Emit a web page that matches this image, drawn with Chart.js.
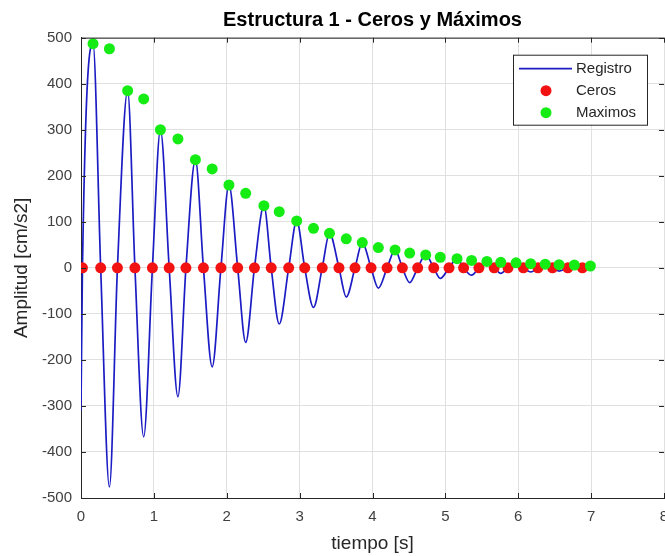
<!DOCTYPE html>
<html lang="es">
<head>
<meta charset="utf-8">
<title>Estructura 1 - Ceros y Máximos</title>
<script src="https://cdn.jsdelivr.net/npm/chart.js@4.4.1/dist/chart.umd.min.js"></script>
<style>
  html, body { margin: 0; padding: 0; background: #fff; overflow: hidden; }
  #grafico { display: block; }
</style>
</head>
<body>
<canvas id="grafico" width="665" height="556"></canvas>
<script>
// Registro de aceleración - estructura 1
const inicioT = 0;      // [s]
const inicioA = -310;   // [cm/s2]

// Instantes de cruce por cero [s]
const cerosT = [0.02, 0.27, 0.50, 0.74, 0.98, 1.21, 1.44, 1.68, 1.92, 2.15, 2.38,
  2.61, 2.85, 3.07, 3.31, 3.54, 3.76, 3.98, 4.20, 4.41, 4.62, 4.84, 5.05, 5.25,
  5.46, 5.67, 5.86, 6.07, 6.27, 6.47, 6.68, 6.88];

// Máximos en valor absoluto entre ceros consecutivos
const maximosT = [0.165, 0.39, 0.64, 0.86, 1.09, 1.33, 1.57, 1.80, 2.03, 2.26, 2.51,
  2.72, 2.96, 3.19, 3.41, 3.64, 3.86, 4.08, 4.31, 4.51, 4.73, 4.93, 5.16, 5.36,
  5.57, 5.76, 5.97, 6.17, 6.37, 6.56, 6.77, 6.99];
const maximosA = [487, 476, 385, 367, 300, 280, 235, 215, 180, 162, 135, 122, 102,
  86, 75, 63, 55, 44, 39, 32, 28, 23, 20, 16, 14, 12, 11, 9, 8, 7, 6, 4];

const ticksX = [0, 1, 2, 3, 4, 5, 6, 7, 8];
const ticksY = [-500, -400, -300, -200, -100, 0, 100, 200, 300, 400, 500];

const fuente = '"Liberation Sans", Arial, Helvetica, sans-serif';
const colorEjes = '#262626';
const bordeDerecho = 664; // el eje llega casi al borde y el "8" queda cortado

// El registro alterna cero -> pico (+) -> cero -> valle (-) ...
const registro = [{ x: inicioT, y: inicioA }];
cerosT.forEach((t, i) => {
  registro.push({ x: t, y: 0 });
  const signo = i % 2 === 0 ? 1 : -1;
  registro.push({ x: maximosT[i], y: signo * maximosA[i] });
});

const ceros = cerosT.map(t => ({ x: t, y: 0 }));
const maximos = maximosT.map((t, i) => ({ x: t, y: maximosA[i] }));

// Chart.js reserva medio rótulo a la derecha; se estira el área hasta el borde
const estirarDerecha = {
  id: 'estirarDerecha',
  afterLayout(chart) {
    const a = chart.chartArea;
    a.right = bordeDerecho;
    a.width = a.right - a.left;
    const x = chart.scales.x;
    x.right = bordeDerecho;
    x.width = x.right - x.left;
    x.configure();
    if (chart.titleBlock) {
      chart.titleBlock.right = bordeDerecho;
      chart.titleBlock.width = chart.titleBlock.right - chart.titleBlock.left;
    }
  }
};

// Borde superior y marcas hacia dentro en los cuatro lados (estilo MATLAB)
const cajaEjes = {
  id: 'cajaEjes',
  afterDraw(chart) {
    const { ctx, chartArea: a, scales: { x, y } } = chart;
    const largo = 5;
    ctx.save();
    ctx.strokeStyle = colorEjes;
    ctx.lineWidth = 1;
    ctx.beginPath();
    ctx.moveTo(a.left, a.top + 0.5);
    ctx.lineTo(a.right, a.top + 0.5);
    ticksX.forEach(v => {
      const px = Math.round(x.getPixelForValue(v)) + 0.5;
      ctx.moveTo(px, a.bottom); ctx.lineTo(px, a.bottom - largo);
      ctx.moveTo(px, a.top); ctx.lineTo(px, a.top + largo);
    });
    ticksY.forEach(v => {
      const py = Math.round(y.getPixelForValue(v)) + 0.5;
      ctx.moveTo(a.left, py); ctx.lineTo(a.left + largo, py);
      ctx.moveTo(a.right, py); ctx.lineTo(a.right - largo, py);
    });
    ctx.stroke();
    ctx.restore();
  }
};

// Leyenda recuadrada en la esquina superior derecha
const leyenda = {
  id: 'leyenda',
  afterDraw(chart) {
    const { ctx, chartArea: a } = chart;
    const ds = chart.data.datasets;
    const ancho = 134, alto = 70;
    const x0 = a.right - 17 - ancho, y0 = a.top + 17;
    ctx.save();
    ctx.fillStyle = '#fff';
    ctx.fillRect(x0, y0, ancho, alto);
    ctx.strokeStyle = colorEjes;
    ctx.lineWidth = 1;
    ctx.strokeRect(x0 + 0.5, y0 + 0.5, ancho, alto);

    const filas = [y0 + 14, y0 + 36, y0 + 58];
    const xMarca = x0 + 33, xTexto = x0 + 63;

    ctx.strokeStyle = ds[0].borderColor;
    ctx.lineWidth = ds[0].borderWidth;
    ctx.beginPath();
    ctx.moveTo(x0 + 6, filas[0]);
    ctx.lineTo(x0 + 59, filas[0]);
    ctx.stroke();

    [1, 2].forEach(k => {
      ctx.fillStyle = ds[k].backgroundColor;
      ctx.beginPath();
      ctx.arc(xMarca, filas[k], ds[k].pointRadius, 0, Math.PI * 2);
      ctx.fill();
    });

    ctx.fillStyle = colorEjes;
    ctx.font = '15px ' + fuente;
    ctx.textBaseline = 'middle';
    ds.forEach((d, k) => ctx.fillText(d.label, xTexto, filas[k] + 0.5));
    ctx.restore();
  }
};

new Chart(document.getElementById('grafico'), {
  type: 'line',
  data: {
    datasets: [
      {
        label: 'Registro',
        data: registro,
        borderColor: '#1c1cc4',
        backgroundColor: '#1c1cc4',
        borderWidth: 1.7,
        pointRadius: 0,
        cubicInterpolationMode: 'monotone',
        order: 3
      },
      {
        label: 'Ceros',
        data: ceros,
        showLine: false,
        backgroundColor: '#f21212',
        borderWidth: 0,
        pointRadius: 5.5,
        order: 2
      },
      {
        label: 'Maximos',
        data: maximos,
        showLine: false,
        backgroundColor: '#14ec14',
        borderWidth: 0,
        pointRadius: 5.5,
        order: 1
      }
    ]
  },
  options: {
    responsive: false,
    animation: false,
    devicePixelRatio: 1,
    layout: { padding: { left: 0, right: 0, top: 0, bottom: 0 } },
    plugins: {
      legend: { display: false },
      tooltip: { enabled: false },
      title: {
        display: true,
        text: 'Estructura 1 - Ceros y Máximos',
        fullSize: false,
        color: '#000',
        font: { family: fuente, size: 20, weight: 'bold' },
        padding: { top: 8.3, bottom: 5.4 }
      }
    },
    scales: {
      x: {
        type: 'linear',
        min: 0,
        max: 8,
        afterBuildTicks: s => { s.ticks = ticksX.map(v => ({ value: v })); },
        afterFit: s => { s.height = 58; },
        grid: { color: '#e0e0e0', drawTicks: false },
        border: { color: colorEjes },
        ticks: { color: '#404040', padding: 10, font: { family: fuente, size: 15 } },
        title: {
          display: true,
          text: 'tiempo [s]',
          color: colorEjes,
          font: { family: fuente, size: 19 },
          padding: { top: 0, bottom: 0.6 }
        }
      },
      y: {
        min: -500,
        max: 500,
        afterBuildTicks: s => { s.ticks = ticksY.map(v => ({ value: v })); },
        afterFit: s => { s.width = 81; },
        grid: { color: '#e0e0e0', drawTicks: false },
        border: { color: colorEjes },
        ticks: { color: '#404040', padding: 9, font: { family: fuente, size: 15 } },
        title: {
          display: true,
          text: 'Amplitud [cm/s2]',
          color: colorEjes,
          font: { family: fuente, size: 19 },
          padding: { top: 10.6, bottom: 0 }
        }
      }
    }
  },
  plugins: [estirarDerecha, cajaEjes, leyenda]
});
</script>
</body>
</html>
